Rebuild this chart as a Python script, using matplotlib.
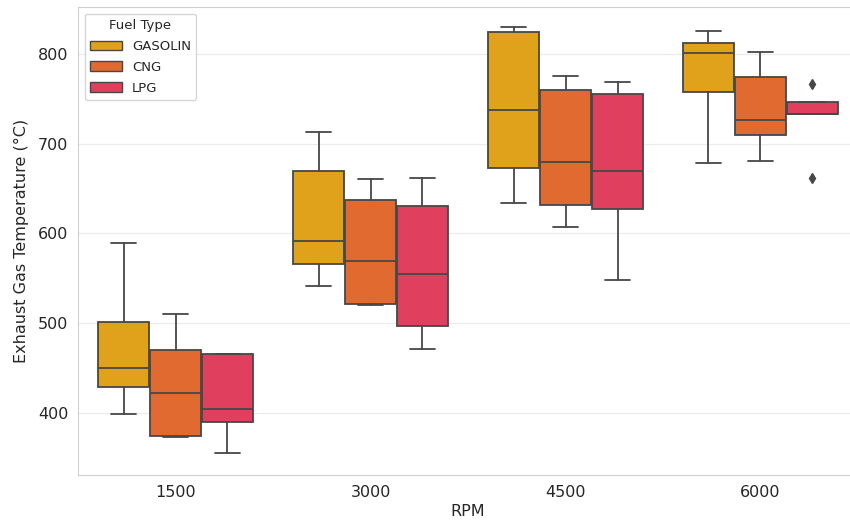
import matplotlib
matplotlib.use("Agg")
import matplotlib.pyplot as plt
from matplotlib.patches import Patch
import seaborn as sns

# box statistics (°C)
rpm_labels = ["1500", "3000", "4500", "6000"]
fuel_types = ["GASOLIN", "CNG", "LPG"]
fuel_colors = ["#E0A11B", "#E06A30", "#E0405E"]

gasolin_whislo = [399, 541, 634, 679]
gasolin_q1 = [429, 566, 673, 758]
gasolin_med = [450, 592, 738, 801]
gasolin_q3 = [501, 670, 825, 812]
gasolin_whishi = [589, 713, 830, 826]

cng_whislo = [373, 520, 607, 681]
cng_q1 = [374, 521, 632, 710]
cng_med = [422, 569, 680, 727]
cng_q3 = [470, 637, 760, 774]
cng_whishi = [510, 661, 775, 802]

lpg_whislo = [355, 471, 548, 733]
lpg_q1 = [390, 497, 627, 733]
lpg_med = [404, 555, 670, 733]
lpg_q3 = [465, 631, 755, 746]
lpg_whishi = [465, 662, 769, 746]

lpg_fliers = [[], [], [], [767, 662]]

stats_by_fuel = {
    "GASOLIN": (gasolin_whislo, gasolin_q1, gasolin_med, gasolin_q3, gasolin_whishi, [[], [], [], []]),
    "CNG": (cng_whislo, cng_q1, cng_med, cng_q3, cng_whishi, [[], [], [], []]),
    "LPG": (lpg_whislo, lpg_q1, lpg_med, lpg_q3, lpg_whishi, lpg_fliers),
}

sns.set_style("whitegrid", {"grid.color": "#ebebeb", "axes.edgecolor": "#d0d0d0"})
plt.rcParams['font.family'] = ['DejaVu Sans']

fig = plt.figure(figsize=(8.5, 5.22), dpi=100)
ax = fig.add_axes([78/850, 47/522, 780/850, 468/522])

line_col = "#474747"
n = len(fuel_types)
w = 0.8 / n
for j, fuel in enumerate(fuel_types):
    lo, q1, med, q3, hi, fl = stats_by_fuel[fuel]
    stats = []
    for i in range(len(rpm_labels)):
        stats.append(dict(whislo=lo[i], q1=q1[i], med=med[i], q3=q3[i], whishi=hi[i], fliers=fl[i]))
    pos = [i - 0.4 + w * (j + 0.5) for i in range(len(rpm_labels))]
    ax.bxp(stats, positions=pos, widths=w * 0.98, patch_artist=True, manage_ticks=False,
           boxprops=dict(facecolor=fuel_colors[j], edgecolor=line_col, linewidth=1.3),
           medianprops=dict(color=line_col, linewidth=1.3),
           whiskerprops=dict(color=line_col, linewidth=1.3),
           capprops=dict(color=line_col, linewidth=1.3),
           flierprops=dict(marker="d", markerfacecolor=line_col, markeredgecolor=line_col, markersize=5))

ax.set_xticks(range(len(rpm_labels)))
ax.set_xticklabels(rpm_labels)
ax.set_xlim(-0.5, len(rpm_labels) - 0.5)
ax.set_ylim(330.5, 852.5)
ax.set_yticks([400, 500, 600, 700, 800])
ax.xaxis.grid(False)
ax.tick_params(labelsize=11.5, colors="#262626")
ax.set_xlabel("RPM", fontsize=11.5, labelpad=3)
ax.set_ylabel("Exhaust Gas Temperature (°C)", fontsize=11.5, labelpad=6)

handles = [Patch(facecolor=c, edgecolor=line_col, label=f) for c, f in zip(fuel_colors, fuel_types)]
ax.legend(handles=handles, title="Fuel Type", loc="upper left", fontsize=9.5, title_fontsize=9.5,
          handlelength=2.4, labelspacing=0.6)

fig.savefig("out.png", dpi=100)
